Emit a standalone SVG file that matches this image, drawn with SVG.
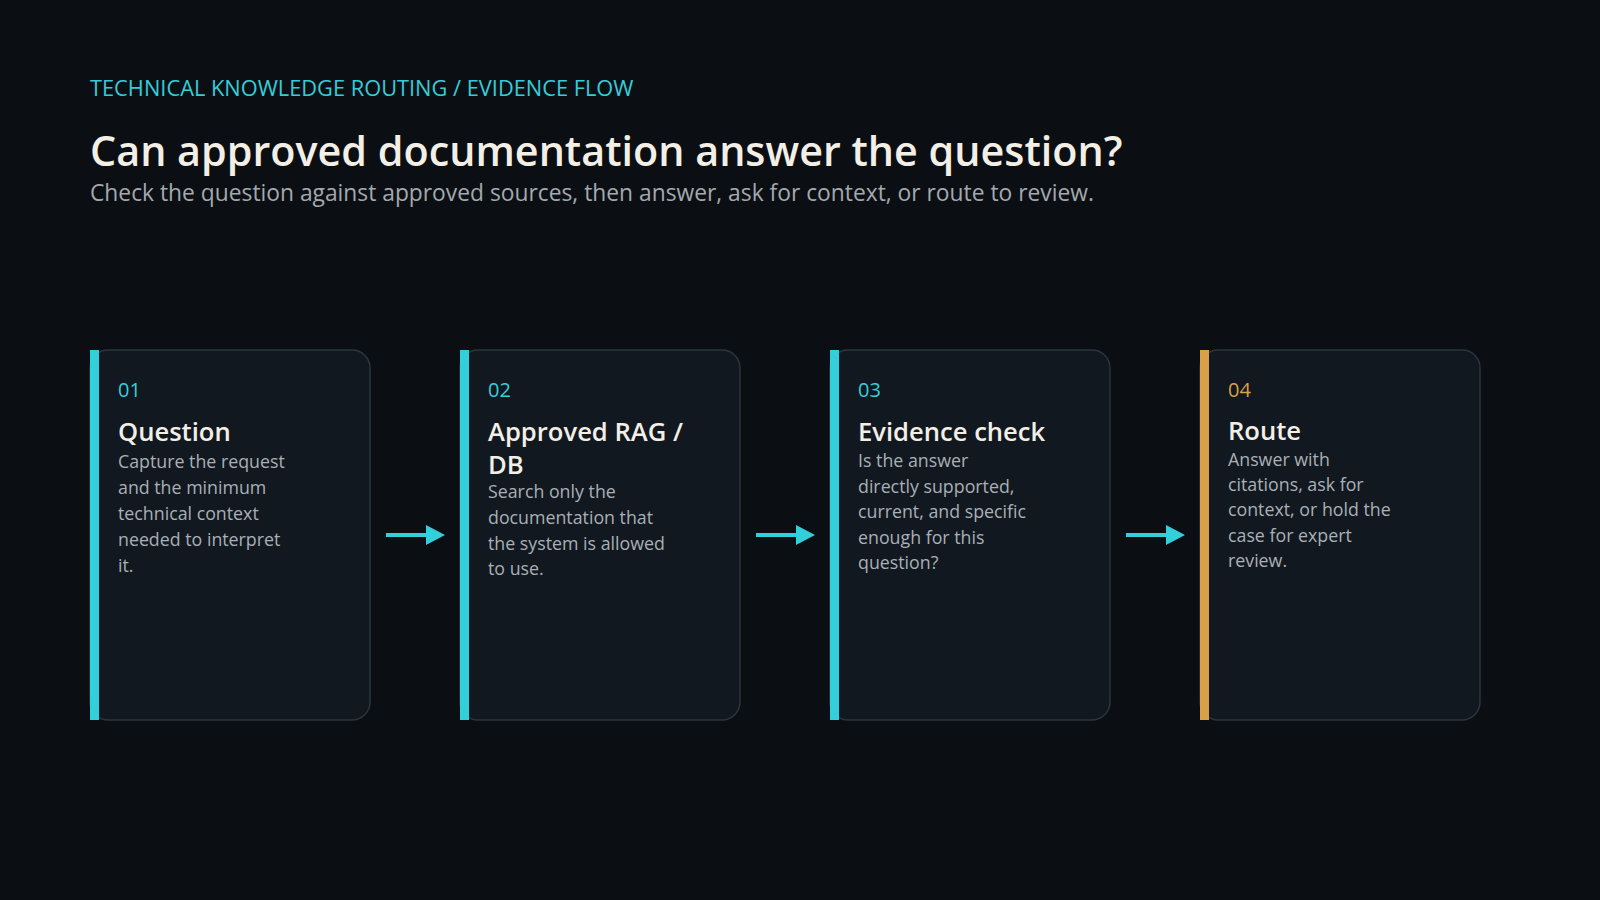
<svg xmlns="http://www.w3.org/2000/svg" width="1600" height="900" viewBox="0 0 1600 900">
  <defs>
    <style>
      .bg { fill: #0b0f13; }
      .kicker { font-family: "Open Sans", "Noto Sans", "Liberation Sans", sans-serif; font-size: 21.8px; font-weight: 500; fill: #35ccd9; }
      .title { font-family: "Open Sans", "Noto Sans", "Liberation Sans", sans-serif; font-size: 41.3px; font-weight: 600; fill: #f3efe6; }
      .sub { font-family: "Open Sans", "Noto Sans", "Liberation Sans", sans-serif; font-size: 22.8px; font-weight: 400; fill: #a3a9ae; }
      .card { fill: #111820; stroke: #2b353e; stroke-width: 1.5; }
      .num { font-family: "Open Sans", "Noto Sans", "Liberation Sans", sans-serif; font-size: 20px; font-weight: 400; }
      .head { font-family: "Open Sans", "Noto Sans", "Liberation Sans", sans-serif; font-size: 25.6px; font-weight: 600; fill: #f3efe6; }
      .body { font-family: "Open Sans", "Noto Sans", "Liberation Sans", sans-serif; font-size: 17.8px; font-weight: 400; fill: #a9b0b6; }
      .cyan { fill: #33d0dc; }
      .amber { fill: #d8a048; }
      .conn { stroke: #33d0dc; stroke-width: 4; fill: none; }
      .head-ar { fill: #33d0dc; }
    </style>
  </defs>
  <rect class="bg" x="0" y="0" width="1600" height="900"/>

  <g id="header">
    <text class="kicker" x="90" y="96">TECHNICAL KNOWLEDGE ROUTING / EVIDENCE FLOW</text>
    <text class="title" x="90" y="166">Can approved documentation answer the question?</text>
    <text class="sub" x="90" y="201">Check the question against approved sources, then answer, ask for context, or route to review.</text>
  </g>

  <g id="node-01">
    <rect class="card" x="90" y="350" width="280" height="370" rx="18"/>
    <rect class="cyan" x="90" y="350" width="9" height="370"/>
    <text class="num cyan" x="118" y="397">01</text>
    <text class="head" x="118" y="441">Question</text>
    <text class="body" x="118" y="468">
      <tspan x="118" y="468">Capture the request</tspan>
      <tspan x="118" y="494">and the minimum</tspan>
      <tspan x="118" y="520">technical context</tspan>
      <tspan x="118" y="546">needed to interpret</tspan>
      <tspan x="118" y="572">it.</tspan>
    </text>
  </g>

  <g id="node-02">
    <rect class="card" x="460" y="350" width="280" height="370" rx="18"/>
    <rect class="cyan" x="460" y="350" width="9" height="370"/>
    <text class="num cyan" x="488" y="397">02</text>
    <text class="head" x="488" y="441">
      <tspan x="488" y="441">Approved RAG /</tspan>
      <tspan x="488" y="474">DB</tspan>
    </text>
    <text class="body" x="488" y="498">
      <tspan x="488" y="498">Search only the</tspan>
      <tspan x="488" y="524">documentation that</tspan>
      <tspan x="488" y="550">the system is allowed</tspan>
      <tspan x="488" y="575">to use.</tspan>
    </text>
  </g>

  <g id="node-03">
    <rect class="card" x="830" y="350" width="280" height="370" rx="18"/>
    <rect class="cyan" x="830" y="350" width="9" height="370"/>
    <text class="num cyan" x="858" y="397">03</text>
    <text class="head" x="858" y="441">Evidence check</text>
    <text class="body" x="858" y="467">
      <tspan x="858" y="467">Is the answer</tspan>
      <tspan x="858" y="493">directly supported,</tspan>
      <tspan x="858" y="518">current, and specific</tspan>
      <tspan x="858" y="544">enough for this</tspan>
      <tspan x="858" y="569">question?</tspan>
    </text>
  </g>

  <g id="node-04">
    <rect class="card" x="1200" y="350" width="280" height="370" rx="18"/>
    <rect class="amber" x="1200" y="350" width="9" height="370"/>
    <text class="num amber" x="1228" y="397">04</text>
    <text class="head" x="1228" y="440">Route</text>
    <text class="body" x="1228" y="466">
      <tspan x="1228" y="466">Answer with</tspan>
      <tspan x="1228" y="491">citations, ask for</tspan>
      <tspan x="1228" y="516">context, or hold the</tspan>
      <tspan x="1228" y="542">case for expert</tspan>
      <tspan x="1228" y="567">review.</tspan>
    </text>
  </g>

  <g id="connectors">
    <line class="conn" x1="386" y1="535" x2="428" y2="535"/>
    <polygon class="head-ar" points="426,525 445,535 426,545"/>
    <line class="conn" x1="756" y1="535" x2="798" y2="535"/>
    <polygon class="head-ar" points="796,525 815,535 796,545"/>
    <line class="conn" x1="1126" y1="535" x2="1168" y2="535"/>
    <polygon class="head-ar" points="1166,525 1185,535 1166,545"/>
  </g>
</svg>
